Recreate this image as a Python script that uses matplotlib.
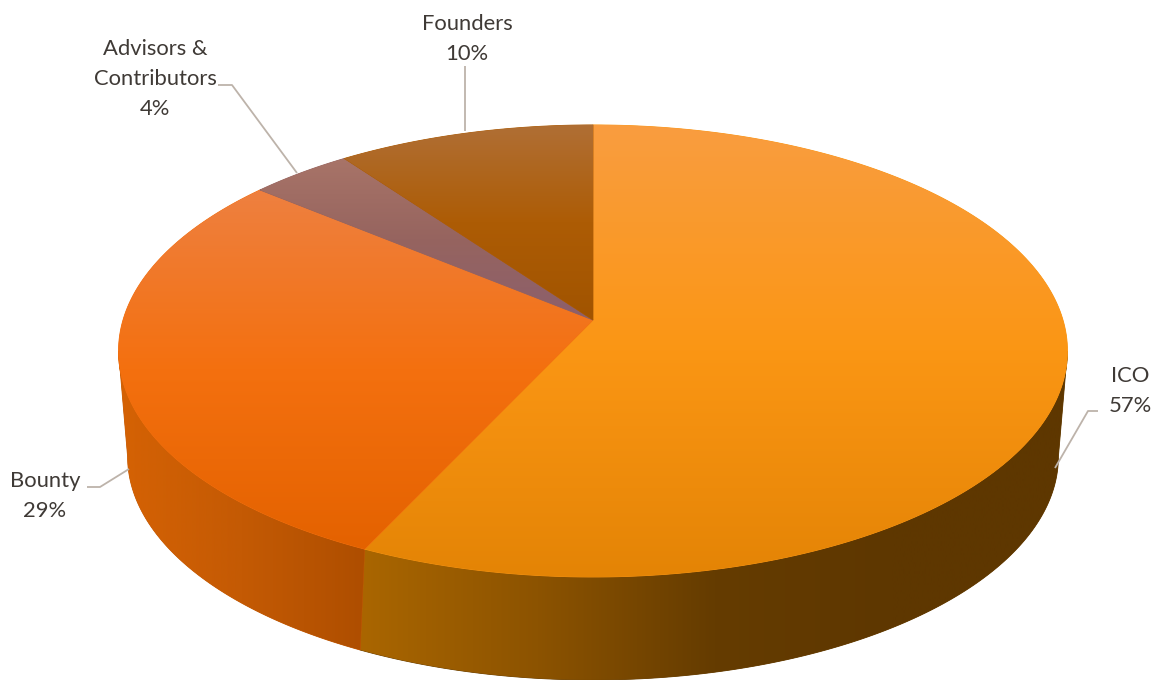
"""
3D style pie chart of the token allocation, drawn with gradient filled patches.
"""

import numpy as np
import matplotlib
matplotlib.use("Agg")
import matplotlib.pyplot as plt
from matplotlib.colors import LinearSegmentedColormap
from matplotlib.patches import Polygon

labels = ["ICO", "Bounty", "Advisors &\nContributors", "Founders"]
shares = [57, 29, 4, 10]

# Top face colours, from the top of the picture to the rim
top_colors = [
    ["#f99d40", "#fb9614", "#e48405"],
    ["#ee8040", "#f4700f", "#e46200"],
    ["#a87468", "#96645f", "#8c5f6c"],
    ["#b06f35", "#ad5c05", "#a15400"],
]
# Side wall colours, from left to right (only the two front slices show a wall)
side_colors = {
    0: ["#aa6600", "#8c5300", "#653c00", "#5e3700", "#5e3700"],
    1: ["#d56204", "#c45a04", "#ae4e00"],
}

label_x = [1130, 45, 155, 467]
label_y = [391, 496, 79, 39]
leader_x = [[1098, 1088, 1055], [87, 100, 129], [218, 232, 297], [465, 465]]
leader_y = [[411, 411, 468], [487, 487, 469], [85, 85, 173], [66, 131]]

CX, CY = 593, 320
RX, RY = 470, 221.8
TILT = 0.137
BOTTOM_TILT = 0.18
DEPTH = 96.5
BOTTOM_SCALE = 0.974
TEXT_COLOR = "#3f3a36"
LEADER_COLOR = "#bdb3aa"


def rim(theta, drop=0.0, scale=1.0, tilt=TILT):
    """Projects angles (clockwise from the top) onto the tilted disc."""
    w = 1 + tilt * np.cos(theta)
    x = CX + scale * RX * np.sin(theta) / w
    y = CY + drop - scale * RY * np.cos(theta) / w
    return x, y


def front_arc(start, stop, tilt):
    """Angles of the slice that lie on the part of the rim facing the viewer."""
    wide = np.arccos(-tilt)
    return np.linspace(max(start, wide), min(stop, 2 * np.pi - wide), 200)


def fill_gradient(ax, poly, colors, extent, order, horizontal=False):
    """Adds the polygon and paints a linear gradient clipped to it."""
    base = colors[len(colors) // 2]
    patch = Polygon(poly, closed=True, facecolor=base, edgecolor=base,
                    linewidth=0.6, zorder=order)
    ax.add_patch(patch)
    ramp = np.linspace(0, 1, 256)
    ramp = ramp[np.newaxis, :] if horizontal else ramp[:, np.newaxis]
    cmap = LinearSegmentedColormap.from_list("fill", colors)
    img = ax.imshow(ramp, cmap=cmap, extent=extent, aspect="auto",
                    interpolation="bilinear", origin="upper",
                    zorder=order + 0.5)
    img.set_clip_path(patch)


fig = plt.figure(figsize=(11.58, 6.8), dpi=100)
ax = fig.add_axes([0, 0, 1, 1])

edges = np.cumsum([0] + shares) / sum(shares) * 2 * np.pi

# Side walls first, the top face is drawn over their upper edge
for i, colors in side_colors.items():
    xt, yt = rim(front_arc(edges[i], edges[i + 1], TILT))
    xb, yb = rim(front_arc(edges[i], edges[i + 1], BOTTOM_TILT),
                 DEPTH, BOTTOM_SCALE, BOTTOM_TILT)
    poly = np.column_stack([np.r_[xt, xb[::-1]], np.r_[yt, yb[::-1]]])
    lo, hi = poly[:, 0].min(), poly[:, 0].max()
    fill_gradient(ax, poly, colors, (lo, hi, 690, 100), 1 + i, horizontal=True)

for i in range(len(shares)):
    theta = np.linspace(edges[i], edges[i + 1], 200)
    xt, yt = rim(theta)
    poly = np.column_stack([np.r_[CX, xt], np.r_[CY, yt]])
    lo, hi = poly[:, 1].min(), poly[:, 1].max()
    fill_gradient(ax, poly, top_colors[i], (100, 1100, hi, lo), 5 + i)

for i in range(len(labels)):
    ax.plot(leader_x[i], leader_y[i], color=LEADER_COLOR, linewidth=1.3,
            solid_capstyle="butt", zorder=12)
    ax.text(label_x[i], label_y[i], f"{labels[i]}\n{shares[i]}%",
            ha="center", va="center", fontsize=15.8, family="Lato",
            color=TEXT_COLOR, linespacing=1.62, zorder=13)

ax.set_xlim(0, 1158)
ax.set_ylim(680, 0)
ax.axis("off")

fig.savefig("out.png", dpi=100, facecolor="white")
